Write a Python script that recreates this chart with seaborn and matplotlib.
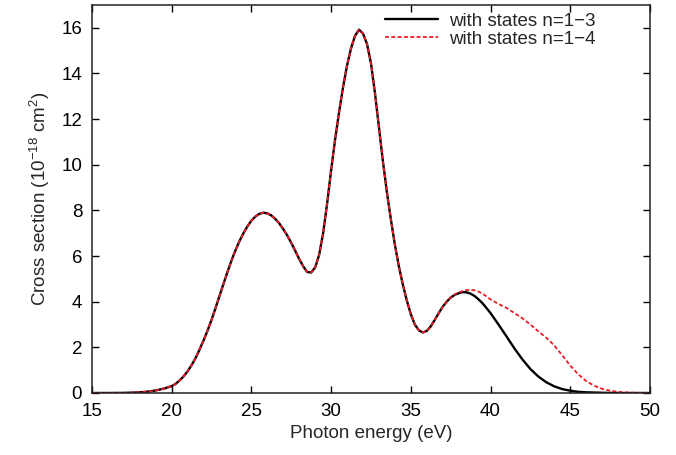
import numpy as np
import pandas as pd
import seaborn as sns
import matplotlib
matplotlib.use("Agg")
import matplotlib.pyplot as plt

# photon energy (eV) and cross section (1e-18 cm^2)
energy_n3 = [15, 16, 17, 17.5, 18, 18.5, 19, 19.5, 20, 20.25, 20.5, 20.75, 21, 21.25,
             21.5, 21.75, 22, 22.25, 22.5, 22.75, 23, 23.25, 23.5, 23.75, 24, 24.25,
             24.5, 24.75, 25, 25.25, 25.5, 25.75, 26, 26.25, 26.5, 26.75, 27, 27.25,
             27.5, 27.75, 28, 28.25, 28.5, 28.75, 29, 29.25, 29.5, 29.75, 30, 30.25,
             30.5, 30.75, 31, 31.25, 31.5, 31.75, 32, 32.25, 32.5, 32.75, 33, 33.25,
             33.5, 33.75, 34, 34.25, 34.5, 34.75, 35, 35.25, 35.5, 35.75, 36, 36.25,
             36.5, 36.75, 37, 37.25, 37.5, 37.75, 38, 38.25, 38.5, 38.75, 39, 39.25,
             39.5, 39.75, 40, 40.5, 41, 41.5, 42, 42.5, 43, 43.5, 44, 44.5, 45, 45.5,
             46, 47, 48, 50]
sigma_n3 = [0, 0, 0.005, 0.015, 0.03, 0.06, 0.11, 0.19, 0.3, 0.4, 0.55, 0.73, 0.95, 1.22,
            1.53, 1.9, 2.3, 2.73, 3.2, 3.72, 4.25, 4.78, 5.3, 5.8, 6.25, 6.65,
            7.0, 7.3, 7.55, 7.73, 7.85, 7.9, 7.87, 7.78, 7.63, 7.43, 7.18, 6.9,
            6.58, 6.23, 5.87, 5.55, 5.3, 5.28, 5.5, 6.05, 7.0, 8.3, 9.75, 11.1,
            12.3, 13.4, 14.35, 15.1, 15.65, 15.92, 15.75, 15.3, 14.45, 13.15, 11.65, 10.15,
            8.8, 7.6, 6.5, 5.55, 4.75, 4.05, 3.45, 3.0, 2.75, 2.65, 2.72, 2.92,
            3.2, 3.5, 3.78, 4.0, 4.18, 4.3, 4.37, 4.42, 4.41, 4.35, 4.25, 4.1,
            3.93, 3.72, 3.5, 3.0, 2.48, 1.95, 1.47, 1.05, 0.72, 0.47, 0.29, 0.17, 0.1, 0.05,
            0.03, 0.01, 0, 0]

energy_n4 = [15, 16, 17, 17.5, 18, 18.5, 19, 19.5, 20, 20.25, 20.5, 20.75, 21, 21.25,
             21.5, 21.75, 22, 22.25, 22.5, 22.75, 23, 23.25, 23.5, 23.75, 24, 24.25,
             24.5, 24.75, 25, 25.25, 25.5, 25.75, 26, 26.25, 26.5, 26.75, 27, 27.25,
             27.5, 27.75, 28, 28.25, 28.5, 28.75, 29, 29.25, 29.5, 29.75, 30, 30.25,
             30.5, 30.75, 31, 31.25, 31.5, 31.75, 32, 32.25, 32.5, 32.75, 33, 33.25,
             33.5, 33.75, 34, 34.25, 34.5, 34.75, 35, 35.25, 35.5, 35.75, 36, 36.25,
             36.5, 36.75, 37, 37.25, 37.5, 37.75, 38, 38.25, 38.5, 38.75, 39, 39.25,
             39.5, 39.75, 40, 40.5, 41, 41.5, 42, 42.5, 43, 43.5, 44, 44.5, 45, 45.5,
             46, 46.5, 47, 47.5, 48, 48.5, 49, 50]
sigma_n4 = [0, 0, 0.005, 0.015, 0.03, 0.06, 0.11, 0.19, 0.3, 0.4, 0.55, 0.73, 0.95, 1.22,
            1.53, 1.9, 2.3, 2.73, 3.2, 3.72, 4.25, 4.78, 5.3, 5.8, 6.25, 6.65,
            7.0, 7.3, 7.55, 7.73, 7.85, 7.9, 7.87, 7.78, 7.63, 7.43, 7.18, 6.9,
            6.58, 6.23, 5.87, 5.55, 5.3, 5.28, 5.5, 6.05, 7.0, 8.3, 9.75, 11.1,
            12.3, 13.4, 14.35, 15.1, 15.65, 15.92, 15.75, 15.3, 14.45, 13.15, 11.65, 10.15,
            8.8, 7.6, 6.5, 5.55, 4.75, 4.05, 3.45, 3.0, 2.75, 2.65, 2.72, 2.92,
            3.2, 3.5, 3.78, 4.0, 4.18, 4.32, 4.4, 4.47, 4.51, 4.52, 4.5, 4.44,
            4.35, 4.23, 4.1, 3.9, 3.73, 3.5, 3.27, 3.0, 2.7, 2.42, 2.08, 1.65, 1.2, 0.82,
            0.52, 0.32, 0.18, 0.1, 0.05, 0.025, 0.01, 0]

labels = ["with states n=1\u22123", "with states n=1\u22124"]
xticks = [15, 20, 25, 30, 35, 40, 45, 50]
yticks = [0, 2, 4, 6, 8, 10, 12, 14, 16]

sns.set_style("ticks")
plt.rcParams["font.family"] = ["Liberation Sans", "DejaVu Sans"]
plt.rcParams["mathtext.fontset"] = "custom"
plt.rcParams["mathtext.rm"] = "Liberation Sans"

fs = 13.5
fig = plt.figure(figsize=(6.76, 4.55), dpi=100)
ax = fig.add_axes([0.136, 0.1363, 0.8255, 0.8527])

df3 = pd.DataFrame({"E": energy_n3, "s": sigma_n3})
df4 = pd.DataFrame({"E": energy_n4, "s": sigma_n4})
sns.lineplot(data=df3, x="E", y="s", ax=ax, color="black", lw=1.7, label=labels[0])
sns.lineplot(data=df4, x="E", y="s", ax=ax, color="#ee1c25", lw=1.3,
             linestyle=(0, (2.2, 1.3)), label=labels[1])

ax.set_xlim(15, 50)
ax.set_ylim(0, 17)
ax.set_xticks(xticks)
ax.set_yticks(yticks)
ax.tick_params(direction="in", top=True, right=True, length=5, width=1,
               labelsize=fs, pad=7, colors="black")
for sp in ax.spines.values():
    sp.set_linewidth(1.1)
    sp.set_color("#222222")

ax.set_xlabel("Photon energy (eV)", fontsize=fs, labelpad=4)
ax.set_ylabel("Cross section (10$^{\\mathregular{-18}}$ cm$^{\\mathregular{2}}$)",
              fontsize=fs, labelpad=7)

ax.legend(loc="upper left", frameon=False, fontsize=fs, handlelength=2.8,
          handletextpad=0.6, borderaxespad=0, labelspacing=0.05,
          bbox_to_anchor=(0.512, 1.0))

fig.savefig("out.png", dpi=100)
